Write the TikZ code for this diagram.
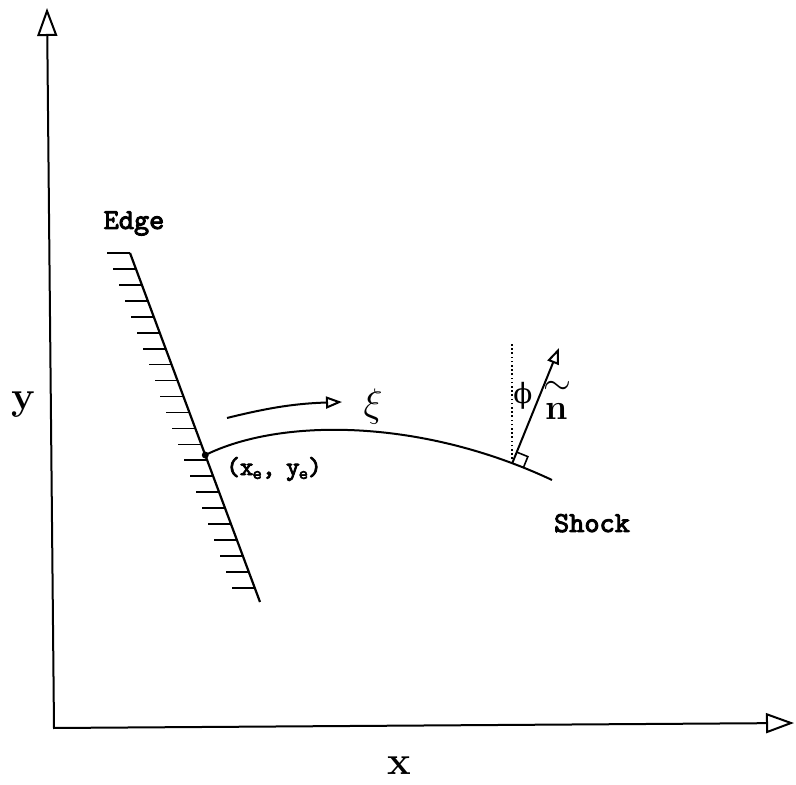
\documentclass[tikz,border=0pt]{standalone}
\usepackage{fix-cm}
\usepackage{fontspec}
\newfontfamily\greekfont{DejaVu Serif}
\newfontfamily\twfont{lmmono10-regular.otf}[FakeBold=3.2]
\usetikzlibrary{arrows.meta,calc}
\begin{document}
\begin{tikzpicture}[x=1bp,y=1bp,
  thin line/.style={line width=2bp},
  axisline/.style={line width=2bp, line join=miter,
    {Triangle[open,length=28bp,width=20bp]}-{Triangle[open,length=28bp,width=20bp]}},
  smallarrow/.style={line width=2bp,-{Triangle[open,length=16bp,width=12bp]}},
  hatch/.style={line width=1.7bp},
  lbl/.style={font=\fontsize{29}{29}\selectfont\twfont, inner sep=0pt},
  axlbl/.style={font=\fontsize{40}{40}\selectfont\bfseries, inner sep=0pt},
  greek/.style={inner sep=0pt}]
\useasboundingbox (0,0) rectangle (796,785);
% axes
\coordinate (O) at (54,57);
\coordinate (ytip) at (47,777);
\coordinate (xtip) at (794,62);
\draw[axisline] (ytip) -- (O) -- (xtip);
\node[axlbl, anchor=base] (ylab) at (23,375) {y};
\node[axlbl, anchor=base] (xlab) at (399,10) {x};
% edge
\coordinate (eT) at (130,532);
\coordinate (eB) at (260,183);
\draw[line width=2.2bp] (eT) -- (eB);
\foreach \i in {0,...,21} {
  \draw[hatch] ($(eT)!{\i*0.0457}!(eB)$) -- ++(-23,0);
}
\node[lbl, anchor=base] (edge) at (134,556) {Edge};
% shock
\coordinate (E) at ($(eT)!0.579!(eB)$);
\fill (E) circle (3.5);
\draw[thin line] (E) .. controls (280,367) and (420,367) .. (552,305)
  node[coordinate, pos=0.9] (foot) {};
\node[lbl, anchor=base] (shock) at (592,253) {Shock};
\node[lbl, font=\fontsize{26}{26}\selectfont\twfont] (xe) at (274,316)
  {(x\kern-1pt\raisebox{-0.35ex}{\fontsize{18}{18}\selectfont e},\kern-3pt\ y\kern-1pt\raisebox{-0.35ex}{\fontsize{18}{18}\selectfont e})};
% xi arrow
\coordinate (a1) at (227,367);
\coordinate (a2) at (342,383);
\draw[smallarrow] (a1) to[bend left=6] (a2);
\node[greek, font=\fontsize{40}{40}\selectfont] (xi) at (373,378) {$\xi$};
% normal
\coordinate (ntip) at (559,437);
\coordinate (dtop) at (508,443);
\draw[line width=1.8bp, dash pattern=on 1.6bp off 2.6bp] (foot) -- (foot |- dtop);
\draw[smallarrow] (foot) -- (ntip);
\coordinate (sqA) at ($(foot)!12bp!(ntip)$);
\coordinate (sqC) at ($(foot)!12bp!-90:(ntip)$);
\coordinate (sqB) at ($(sqA)+(sqC)-(foot)$);
\draw[line width=1.6bp] (sqA) -- (sqB) -- (sqC);
\node[greek, font=\fontsize{28}{28}\selectfont\greekfont] (phi) at (523,389) {ϕ};
\node[greek, font=\fontsize{36}{36}\selectfont\bfseries, anchor=base] (n) at (557,365) {n};
\node[greek, font=\fontsize{36}{36}\selectfont] (tl) at (557,397) {$\sim$};
\end{tikzpicture}
\end{document}
